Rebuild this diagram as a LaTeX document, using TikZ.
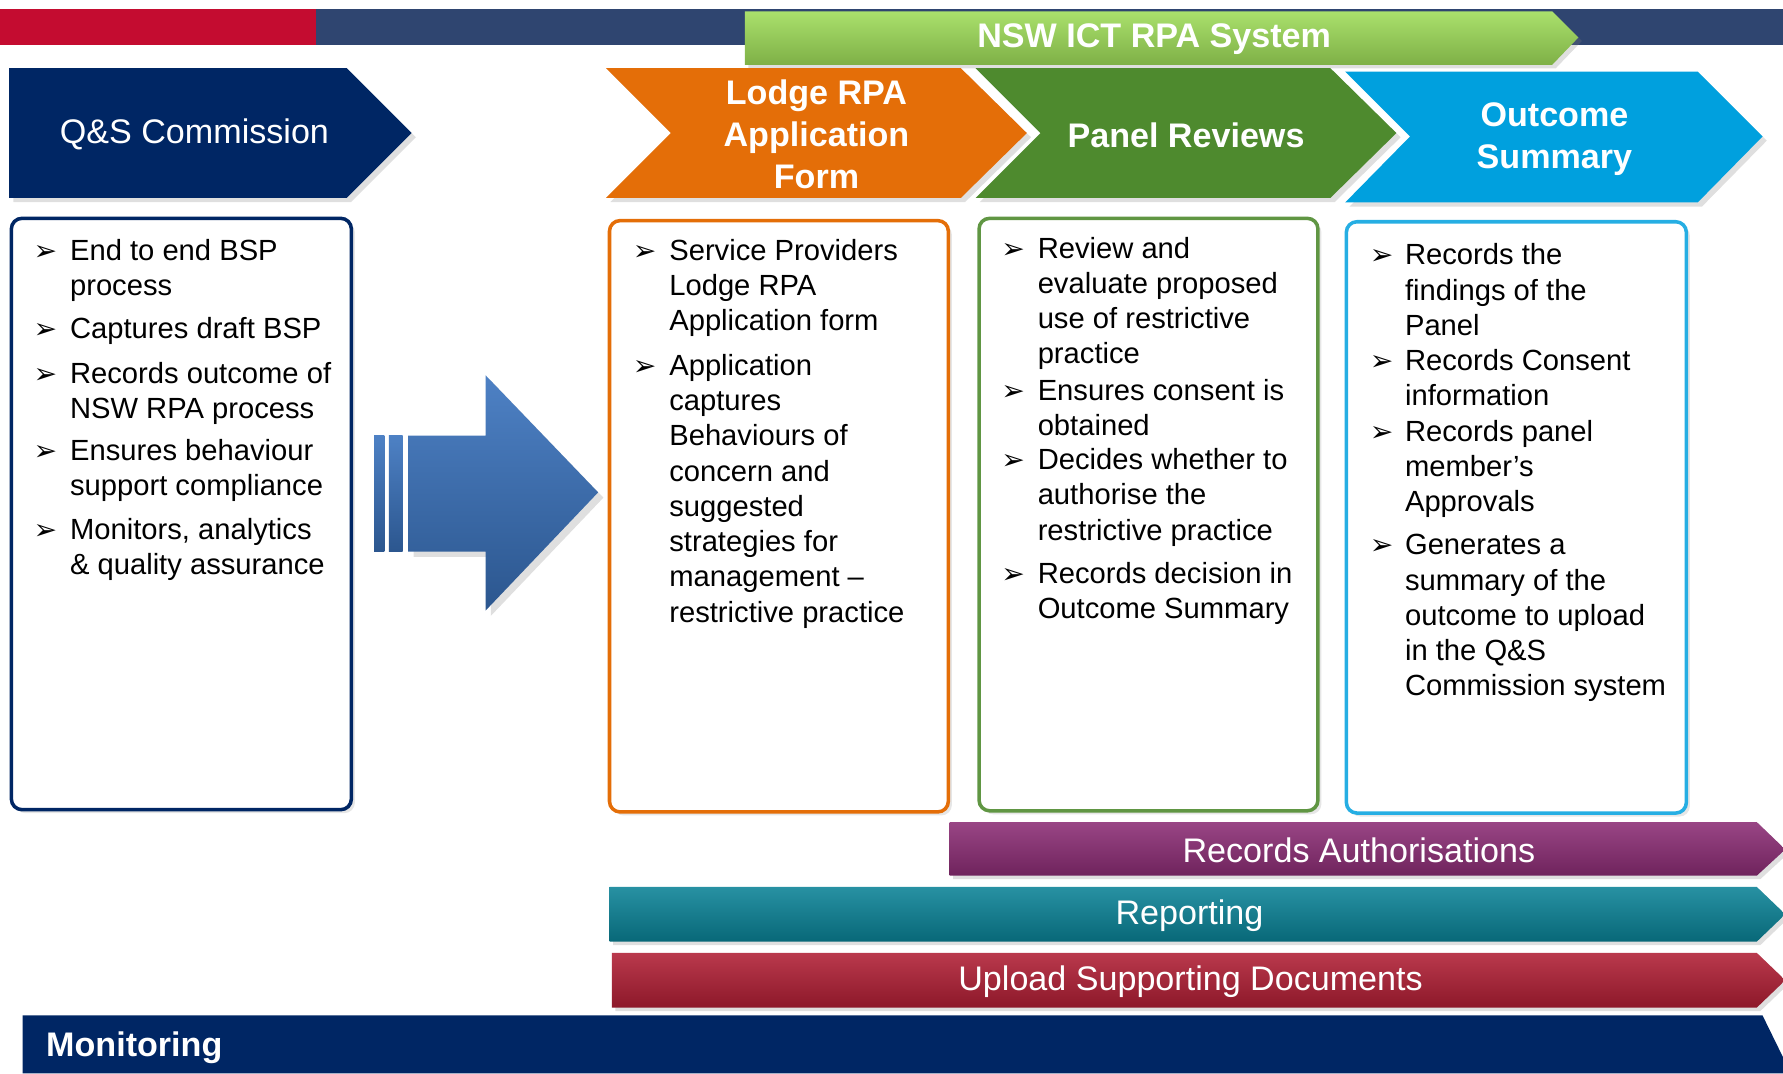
\documentclass[tikz,border=0pt]{standalone}
\usepackage{fontspec}
\setmainfont{Liberation Sans}
\newfontfamily\dingfont{DejaVu Sans}
\usepackage{tikz}
\usetikzlibrary{
    shadows
}

\begin{document}
\begin{tikzpicture}[
    x=0.011371cm, y=-0.011371cm,
    font=\fontsize{8.3}{10.03}\selectfont,
    frame/.style={
    	draw=#1, fill=white, line width=1pt,
    	rounded corners=3pt,
    	drop shadow={opacity=.2, shadow xshift=1pt, shadow yshift=-1pt}
    }, chev/.style={
    	fill=#1,
    	drop shadow={opacity=.25, shadow xshift=1.2pt, shadow yshift=-1.2pt}
    }, bar/.style={
    	top color=#1!88!white, middle color=#1, bottom color=#1!80!black,
    	drop shadow={opacity=.25, shadow xshift=1pt, shadow yshift=-1pt}
    }, hdr/.style={
    	text=white, align=center, inner sep=0pt,
    	font=\bfseries\fontsize{9.7}{11.97}\selectfont
    }, bartxt/.style={
    	text=white, inner sep=0pt,
    	font=\fontsize{9.7}{11.97}\selectfont
    }, itm/.style={
    	anchor=base west, inner sep=0pt
    }, bul/.style={
    	anchor=base west, inner sep=0pt,
    	font=\dingfont\fontsize{8}{8}\selectfont
    }]
    \definecolor{my-navy}{RGB}{0, 38, 100}
    \definecolor{my-red}{RGB}{196, 12, 48}
    \definecolor{my-slate}{RGB}{47, 69, 112}
    \definecolor{my-lime}{RGB}{158, 220, 88}
    \definecolor{my-orange}{RGB}{228, 110, 8}
    \definecolor{my-green}{RGB}{78, 138, 46}
    \definecolor{my-blue}{RGB}{0, 160, 222}
    \definecolor{my-arrow}{RGB}{58, 115, 190}
    \definecolor{my-purple}{RGB}{139, 44, 116}
    \definecolor{my-teal}{RGB}{10, 130, 150}
    \definecolor{my-crimson}{RGB}{176, 30, 52}

    \useasboundingbox (0,0) rectangle (1568,944);

    % top strip
    \fill[my-red] (0,8) rectangle (278,40);
    \fill[my-slate] (278,8) rectangle (1568,40);
    \path[bar=my-lime] (655,10) -- (1365,10) -- (1388,33) -- (1365,57) -- (655,57) -- cycle;
    \node[hdr] (system) at (1015,34) {NSW ICT RPA System};

    % chevrons
    \path[chev=my-navy] (8,60) -- (305,60) -- (362,117) -- (305,174) -- (8,174) -- cycle;
    \path[chev=my-orange] (533,60) -- (845,60) -- (903,117) -- (845,174) -- (533,174) -- (590,117) -- cycle;
    \path[chev=my-green] (858,60) -- (1170,60) -- (1228,117) -- (1170,174) -- (858,174) -- (915,117) -- cycle;
    \path[chev=my-blue] (1183,63) -- (1493,63) -- (1550,120) -- (1493,178) -- (1183,178) -- (1240,120) -- cycle;

    \node[hdr, font=\fontsize{9.7}{11.97}\selectfont] (qs) at (171,118) {Q\&S Commission};
    \node[hdr] (lodge) at (718,118) {Lodge RPA\\Application\\Form};
    \node[hdr] (panel) at (1043,119) {Panel Reviews};
    \node[hdr] (outcome) at (1367,122) {Outcome\\Summary};

    % boxes
    \draw[frame=my-navy] (10,192) rectangle (309,712);
    \draw[frame=my-orange] (536,194) rectangle (834,714);
    \draw[frame=my-green!90!white] (861,192) rectangle (1159,713);
    \draw[frame=my-blue!85!white] (1184,195) rectangle (1483,715);

    % big arrow
    \path[top color=my-arrow!90!white, bottom color=my-arrow!75!black,
    	drop shadow={opacity=.25, shadow xshift=1.5pt, shadow yshift=-1.5pt}]
    	(359,383) -- (427,383) -- (427,330) -- (526,433) -- (427,537) -- (427,485) -- (359,485) -- cycle;
    \path[top color=my-arrow!90!white, bottom color=my-arrow!75!black] (329,383) rectangle (338,485);
    \path[top color=my-arrow!90!white, bottom color=my-arrow!75!black] (342,383) rectangle (354,485);

    % bullet lists
    \foreach \y/\txt [count=\i] in {
    	229/{End to end BSP\\process},
    	298/{Captures draft BSP},
    	337/{Records outcome of\\NSW RPA process},
    	405/{Ensures behaviour\\support compliance},
    	474/{Monitors, analytics\\\& quality assurance}} {
    	\node[bul] (qs-bul\i) at (29,\y) {➢};
    	\node[itm] (qs-itm\i) at (61,\y) {\begin{tabular}[t]{@{}l@{}}\txt\end{tabular}};
    }
    \foreach \y/\txt [count=\i] in {
    	229/{Service Providers\\Lodge RPA\\Application form},
    	330/{Application\\captures\\Behaviours of\\concern and\\suggested\\strategies for\\management --\\restrictive practice}} {
    	\node[bul] (lodge-bul\i) at (556,\y) {➢};
    	\node[itm] (lodge-itm\i) at (588,\y) {\begin{tabular}[t]{@{}l@{}}\txt\end{tabular}};
    }
    \foreach \y/\txt [count=\i] in {
    	227/{Review and\\evaluate proposed\\use of restrictive\\practice},
    	352/{Ensures consent is\\obtained},
    	413/{Decides whether to\\authorise the\\restrictive practice},
    	513/{Records decision in\\Outcome Summary}} {
    	\node[bul] (panel-bul\i) at (880,\y) {➢};
    	\node[itm] (panel-itm\i) at (912,\y) {\begin{tabular}[t]{@{}l@{}}\txt\end{tabular}};
    }
    \foreach \y/\txt [count=\i] in {
    	233/{Records the\\findings of the\\Panel},
    	326/{Records Consent\\information},
    	388/{Records panel\\member’s\\Approvals},
    	488/{Generates a\\summary of the\\outcome to upload\\in the Q\&S\\Commission system}} {
    	\node[bul] (outcome-bul\i) at (1204,\y) {➢};
    	\node[itm] (outcome-itm\i) at (1235,\y) {\begin{tabular}[t]{@{}l@{}}\txt\end{tabular}};
    }

    % lower bars
    \path[bar=my-purple] (835,723) -- (1545,723) -- (1570,747) -- (1545,770) -- (835,770) -- cycle;
    \node[bartxt] (auth) at (1195,748) {Records Authorisations};
    \path[bar=my-teal] (536,780) -- (1545,780) -- (1570,804) -- (1545,828) -- (536,828) -- cycle;
    \node[bartxt] (report) at (1046,805) {Reporting};
    \path[bar=my-crimson] (538,838) -- (1545,838) -- (1570,862) -- (1545,886) -- (538,886) -- cycle;
    \node[bartxt] (upload) at (1047,863) {Upload Supporting Documents};

    \fill[my-navy] (20,893) -- (1550,893) -- (1575,944) -- (20,944) -- cycle;
    \node[hdr, anchor=west] (monitor) at (40,921) {Monitoring};

\end{tikzpicture}
\end{document}
